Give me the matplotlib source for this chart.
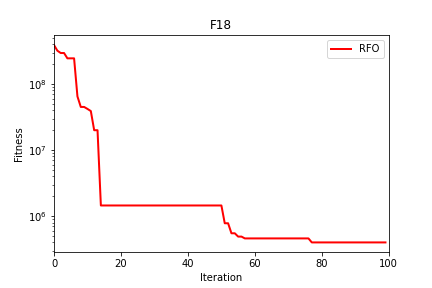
import numpy as np
import matplotlib
matplotlib.use("Agg")
import matplotlib.pyplot as plt

# 収束曲線のデータ (F18, RFO)
fitness = ([3.9e8, 3.2e8, 2.95e8, 2.95e8, 2.45e8, 2.45e8, 2.45e8,
            6.5e7, 4.5e7, 4.5e7, 4.2e7, 3.9e7, 2.0e7, 2.0e7]
           + [1.45e6] * 37
           + [7.8e5, 7.8e5, 5.5e5, 5.5e5, 4.9e5, 4.9e5]
           + [4.6e5] * 20
           + [4.0e5] * 23)
iteration = np.arange(len(fitness))

fig = plt.figure(figsize=(6, 4), dpi=72)
fig.subplots_adjust(left=0.125, right=0.9, top=0.878, bottom=0.124)
plt.semilogy(iteration, fitness, color="red", linewidth=2, label="RFO")
plt.xlim(0, 100)
plt.xlabel("Iteration")
plt.ylabel("Fitness")
plt.title("F18")
plt.legend(loc="upper right")
plt.savefig("out.png")
